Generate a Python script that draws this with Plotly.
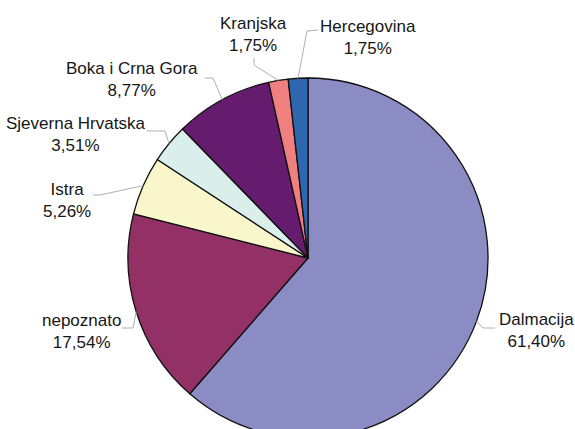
import math
import plotly.graph_objects as go

# data, clockwise from 12 o'clock
regions = ["Dalmacija", "nepoznato", "Istra", "Sjeverna Hrvatska",
           "Boka i Crna Gora", "Kranjska", "Hercegovina"]
counts = [35, 10, 3, 2, 5, 1, 1]
percent_labels = ["61,40%", "17,54%", "5,26%", "3,51%", "8,77%", "1,75%", "1,75%"]
colors = ["#8B8CC4", "#933166", "#F8F6CA", "#DAEFEC", "#661C6E", "#F07F7F", "#2E66B0"]

W, H = 575, 460          # taller than the window so the bottom of the pie gets cut off
CX, CY, R = 308, 258, 180  # pie centre / radius in pixels (from top-left)

# label placement (pixels): text centre, attach point, elbow point
label_pos = {
    "Dalmacija": ((536, 330), (495, 328), (483, 328)),
    "nepoznato": ((81, 331), (122, 328), (133, 328)),
    "Istra": ((67, 200), (93, 195), (100, 195)),
    "Sjeverna Hrvatska": ((75, 134), (147, 131), (165, 131)),
    "Boka i Crna Gora": ((132, 79), (205, 78), (213, 78)),
    "Kranjska": ((253, 34), (254, 58), (254, 65)),
    "Hercegovina": ((368, 38), (318, 30), (307, 31)),
}


def px(x, y):
    return x / W, (H - y) / H


fig = go.Figure(
    go.Pie(
        labels=regions,
        values=counts,
        sort=False,
        direction="clockwise",
        rotation=0,
        textinfo="none",
        hoverinfo="label+percent",
        marker=dict(colors=colors, line=dict(color="#111111", width=1.3)),
        domain=dict(x=[(CX - R) / W, (CX + R) / W], y=[(H - CY - R) / H, (H - CY + R) / H]),
        showlegend=False,
    )
)

total = sum(counts)
cum = 0
for name, val, pct in zip(regions, counts, percent_labels):
    mid = (cum + val / 2) / total * 2 * math.pi
    cum += val
    ex, ey = CX + R * math.sin(mid), CY - R * math.cos(mid)
    (tx, ty), (ax, ay), (bx, by) = label_pos[name]

    fig.add_shape(
        type="path",
        xref="paper", yref="paper",
        path="M {} {} L {} {} L {} {}".format(*px(ax, ay), *px(bx, by), *px(ex, ey)),
        line=dict(color="#B0B0B0", width=1),
    )
    lx, ly = px(tx, ty)
    fig.add_annotation(
        x=lx, y=ly, xref="paper", yref="paper",
        text=name + "<br>" + pct,
        showarrow=False,
        xanchor="center", yanchor="middle",
        font=dict(family="Liberation Sans, Arial, sans-serif", size=17, color="#161616"),
    )

fig.update_layout(
    width=W,
    height=H,
    margin=dict(l=0, r=0, t=0, b=0),
    paper_bgcolor="white",
    plot_bgcolor="white",
)

fig.write_html(
    "out.html",
    config={"displayModeBar": False},
    post_script="document.body.style.margin='0';document.body.style.overflow='hidden';",
)
